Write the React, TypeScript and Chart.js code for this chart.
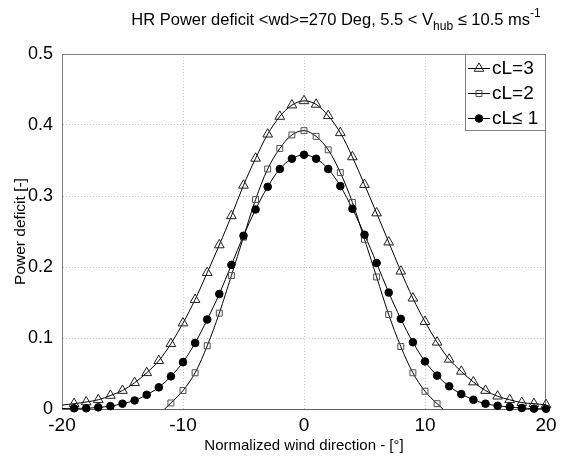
import React, { useEffect, useRef } from 'react';
import { Chart, registerables } from 'chart.js';

Chart.register(...registerables);

// ---------------- data ----------------
const xCL3 = [-19, -18, -17, -16, -15, -14, -13, -12, -11, -10, -9, -8, -7, -6, -5, -4, -3, -2, -1, 0, 1, 2, 3, 4, 5, 6, 7, 8, 9, 10, 11, 12, 13, 14, 15, 16, 17, 18, 19, 20];
const yCL3 = [0.0075, 0.0099, 0.013, 0.019, 0.026, 0.037, 0.051, 0.068, 0.092, 0.121, 0.154, 0.192, 0.231, 0.272, 0.315, 0.353, 0.387, 0.412, 0.428, 0.434, 0.429, 0.413, 0.389, 0.355, 0.316, 0.276, 0.235, 0.194, 0.156, 0.123, 0.094, 0.070, 0.053, 0.038, 0.026, 0.018, 0.013, 0.009, 0.0075, 0.006];

const xCL2 = [-11, -10, -9, -8, -7, -6, -5, -4, -3, -2, -1, 0, 1, 2, 3, 4, 5, 6, 7, 8, 9, 10, 11];
const yCL2 = [0.0085, 0.026, 0.051, 0.089, 0.135, 0.188, 0.242, 0.295, 0.338, 0.367, 0.386, 0.392, 0.384, 0.365, 0.333, 0.291, 0.239, 0.186, 0.133, 0.088, 0.051, 0.025, 0.0075];

const xCL1 = [-19, -18, -17, -16, -15, -14, -13, -12, -11, -10, -9, -8, -7, -6, -5, -4, -3, -2, -1, 0, 1, 2, 3, 4, 5, 6, 7, 8, 9, 10, 11, 12, 13, 14, 15, 16, 17, 18, 19, 20];
const yCL1 = [0.001, 0.001, 0.0023, 0.004, 0.0075, 0.012, 0.020, 0.0305, 0.046, 0.066, 0.093, 0.126, 0.162, 0.203, 0.244, 0.281, 0.313, 0.338, 0.3525, 0.358, 0.3525, 0.338, 0.314, 0.282, 0.2455, 0.2056, 0.164, 0.127, 0.094, 0.067, 0.047, 0.032, 0.021, 0.013, 0.0075, 0.0046, 0.0028, 0.0014, 0.0005, 0.0003];

// fitted-curve ends (beyond the markers)
const fitEndsCL3 = [{ x: -20, y: 0.0055 }];
const fitEndsCL2 = [{ x: -12, y: -0.008 }, { x: 12, y: -0.008 }];
const fitEndsCL1 = [{ x: -20, y: 0.0006 }];

const legendLabels = ['cL=3', 'cL=2', 'cL\u2264 1'];
const xTickValues = [-20, -10, 0, 10, 20];
const yTickValues = [0, 0.1, 0.2, 0.3, 0.4, 0.5];

const titleParts = [
  { text: 'HR Power deficit <wd>=270 Deg, 5.5 < V', kind: 'n' },
  { text: 'hub', kind: 'sub' },
  { text: ' \u2264 10.5 ms', kind: 'n' },
  { text: '-1', kind: 'sup' },
];
const xTitle = 'Normalized wind direction - [\u00B0]';
const yTitle = 'Power deficit [-]';

// ---------------- helpers ----------------
const FONT = "'Liberation Sans', Arial, Helvetica, sans-serif";

function pts(xs: number[], ys: number[]) {
  return xs.map((x, i) => ({ x, y: ys[i] }));
}
function withEnds(xs: number[], ys: number[], ends: { x: number; y: number }[]) {
  return [...pts(xs, ys), ...ends].sort((a, b) => a.x - b.x);
}

const styles = [
  { style: 'triangle', radius: 5.6, fill: 'rgba(0,0,0,0)', stroke: '#202020' },
  { style: 'rect', radius: 4.2, fill: 'rgba(0,0,0,0)', stroke: '#505050' },
  { style: 'circle', radius: 3.8, fill: '#000000', stroke: '#000000' },
];

function drawMarker(ctx: CanvasRenderingContext2D, s: any, x: number, y: number) {
  ctx.save();
  ctx.lineWidth = 1;
  ctx.strokeStyle = s.stroke;
  ctx.fillStyle = s.fill;
  ctx.beginPath();
  if (s.style === 'circle') {
    ctx.arc(x, y, s.radius, 0, Math.PI * 2);
  } else if (s.style === 'rect') {
    const h = s.radius * Math.SQRT1_2;
    ctx.rect(x - h, y - h, 2 * h, 2 * h);
  } else {
    const r = s.radius;
    ctx.moveTo(x, y - r);
    ctx.lineTo(x + r * Math.sin((2 * Math.PI) / 3), y - r * Math.cos((2 * Math.PI) / 3));
    ctx.lineTo(x + r * Math.sin((4 * Math.PI) / 3), y - r * Math.cos((4 * Math.PI) / 3));
    ctx.closePath();
  }
  ctx.fill();
  ctx.stroke();
  ctx.restore();
}

const decorPlugin = {
  id: 'decor',
  beforeDatasetsDraw(chart: any) {
    const { ctx, chartArea: a } = chart;
    ctx.save();
    ctx.strokeStyle = '#808080';
    ctx.lineWidth = 1;
    ctx.beginPath();
    ctx.moveTo(Math.round(a.left) + 0.5, Math.round(a.top) + 0.5);
    ctx.lineTo(Math.round(a.right) - 0.5, Math.round(a.top) + 0.5);
    ctx.lineTo(Math.round(a.right) - 0.5, Math.round(a.bottom) - 0.5);
    ctx.stroke();
    ctx.restore();
  },
  afterDraw(chart: any) {
    const { ctx, chartArea: a } = chart;
    ctx.save();
    // title
    const base = 16.5;
    const small = 12;
    let total = 0;
    for (const p of titleParts) {
      ctx.font = `${p.kind === 'n' ? base : small}px ${FONT}`;
      total += ctx.measureText(p.text).width;
    }
    let x = (a.left + a.right) / 2 + 32 - total / 2;
    const baseY = 25;
    ctx.fillStyle = '#000';
    ctx.textBaseline = 'alphabetic';
    ctx.textAlign = 'left';
    for (const p of titleParts) {
      ctx.font = `${p.kind === 'n' ? base : small}px ${FONT}`;
      const dy = p.kind === 'sub' ? 5 : p.kind === 'sup' ? -8 : 0;
      ctx.fillText(p.text, x, baseY + dy);
      x += ctx.measureText(p.text).width;
    }
    // axis titles
    ctx.font = `15px ${FONT}`;
    ctx.textAlign = 'center';
    ctx.textBaseline = 'alphabetic';
    ctx.fillText(xTitle, (a.left + a.right) / 2, 450);
    ctx.save();
    ctx.translate(25, (a.top + a.bottom) / 2);
    ctx.rotate(-Math.PI / 2);
    ctx.font = `15.5px ${FONT}`;
    ctx.fillText(yTitle, 0, 0);
    ctx.restore();

    // legend
    const lx0 = 465, ly0 = Math.round(a.top), lx1 = Math.round(a.right), ly1 = 131;
    ctx.fillStyle = '#ffffff';
    ctx.fillRect(lx0, ly0, lx1 - lx0, ly1 - ly0);
    ctx.strokeStyle = '#808080';
    ctx.lineWidth = 1;
    ctx.strokeRect(lx0 + 0.5, ly0 + 0.5, lx1 - lx0 - 1, ly1 - ly0 - 1);
    const rows = [68, 93, 118];
    ctx.font = `19px ${FONT}`;
    ctx.textAlign = 'left';
    ctx.textBaseline = 'middle';
    legendLabels.forEach((lab, i) => {
      const y = rows[i] + 0.5;
      ctx.strokeStyle = '#000';
      ctx.lineWidth = 1;
      ctx.beginPath();
      ctx.moveTo(468, y);
      ctx.lineTo(490, y);
      ctx.stroke();
      drawMarker(ctx, styles[i], 479, y);
      ctx.fillStyle = '#000';
      ctx.fillText(lab, 492, rows[i] + 1);
    });
    ctx.restore();
  },
};

export default function App() {
  const ref = useRef<HTMLCanvasElement | null>(null);

  useEffect(() => {
    if (!ref.current) return;
    const series = [
      { xs: xCL3, ys: yCL3, ends: fitEndsCL3 },
      { xs: xCL2, ys: yCL2, ends: fitEndsCL2 },
      { xs: xCL1, ys: yCL1, ends: fitEndsCL1 },
    ];
    const datasets: any[] = [];
    series.forEach((s, i) => {
      datasets.push({
        label: legendLabels[i] + ' fit',
        data: withEnds(s.xs, s.ys, s.ends),
        borderColor: '#000000',
        borderWidth: 1,
        pointRadius: 0,
        tension: 0.35,
        fill: false,
        order: 10,
      });
    });
    series.forEach((s, i) => {
      const st = styles[i];
      datasets.push({
        label: legendLabels[i],
        data: pts(s.xs, s.ys),
        showLine: false,
        pointStyle: st.style,
        pointRadius: st.radius,
        pointBackgroundColor: st.fill,
        pointBorderColor: st.stroke,
        pointBorderWidth: 1,
        clip: false,
        order: 3 - i,
      });
    });

    const chart = new Chart(ref.current, {
      type: 'line',
      data: { datasets },
      options: {
        animation: false,
        responsive: false,
        devicePixelRatio: 1,
        parsing: false as any,
        normalized: true,
        layout: { padding: { top: 54, right: 16, left: 0, bottom: 0 } },
        plugins: { legend: { display: false }, tooltip: { enabled: false }, title: { display: false } },
        scales: {
          x: {
            type: 'linear',
            min: -20,
            max: 20,
            afterBuildTicks: (sc: any) => { sc.ticks = xTickValues.map((v) => ({ value: v })); },
            afterFit: (sc: any) => { sc.height = 52; },
            ticks: {
              color: '#000',
              font: { family: FONT, size: 19 },
              padding: 5,
              maxRotation: 0,
              autoSkip: false,
              callback: (v: any) => String(v),
            },
            grid: {
              color: (c: any) => (c.tick && (c.tick.value === -20 || c.tick.value === 20) ? 'rgba(0,0,0,0)' : '#c4c4c4'),
              lineWidth: 1,
              drawTicks: false,
            },
            border: { display: true, color: '#606060', width: 1, dash: [1, 2] },
          },
          y: {
            type: 'linear',
            min: 0,
            max: 0.5,
            afterBuildTicks: (sc: any) => { sc.ticks = yTickValues.map((v) => ({ value: v })); },
            afterFit: (sc: any) => { sc.width = 62; },
            ticks: {
              color: '#000',
              font: { family: FONT, size: 18 },
              padding: 9,
              autoSkip: false,
              callback: (v: any) => (v === 0 ? '0' : Number(v).toFixed(1)),
            },
            grid: {
              color: (c: any) => (c.tick && (c.tick.value === 0 || c.tick.value === 0.5) ? 'rgba(0,0,0,0)' : '#c4c4c4'),
              lineWidth: 1,
              drawTicks: false,
            },
            border: { display: true, color: '#808080', width: 1, dash: [1, 2] },
          },
        },
      },
      plugins: [decorPlugin],
    });
    return () => chart.destroy();
  }, []);

  return (
    <div style={{ position: 'absolute', left: 0, top: 0, width: 562, height: 461, background: '#fff' }}>
      <canvas ref={ref} width={562} height={461} style={{ display: 'block', width: 562, height: 461 }} />
    </div>
  );
}
